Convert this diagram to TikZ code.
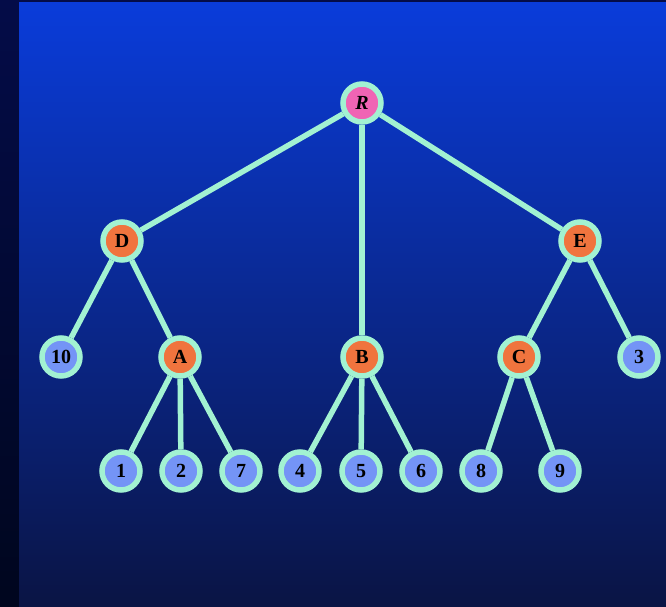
\documentclass[tikz,border=0pt]{standalone}
\usepackage{fontspec}
\setmainfont{Liberation Serif}
\begin{document}
\begin{tikzpicture}[x=1pt,y=-1pt,
  treenode/.style={circle, draw=mint, line width=5.5pt, minimum size=38pt,
    inner sep=0pt, font=\fontsize{20}{20}\selectfont\bfseries, text=black},
  inner/.style={treenode, fill=nodeorange},
  leaf/.style={treenode, fill=leafblue},
  rootnode/.style={treenode, fill=rootpink},
  edge/.style={draw=mint, line width=5.5pt}]
\definecolor{mint}{HTML}{A2F2D2}
\definecolor{nodeorange}{HTML}{F0743E}
\definecolor{leafblue}{HTML}{7494F6}
\definecolor{rootpink}{HTML}{F064B4}
\definecolor{bgtop}{HTML}{0A3CDA}
\definecolor{bgmid}{HTML}{0A2CAC}
\definecolor{bgbot}{HTML}{0A1444}
\definecolor{striptop}{HTML}{040C48}
\definecolor{stripbot}{HTML}{00061E}
% backdrop: dark frame strip and blue gradient panel
\useasboundingbox (0,0) rectangle (666,607);
\shade[top color=striptop, bottom color=stripbot] (0,0) rectangle (666,607);
\shade[top color=bgtop, middle color=bgmid, bottom color=bgbot] (19,3) rectangle (666,607);
% nodes
\node[rootnode] (R) at (362,103) {\itshape R};
\node[inner] (D) at (122,241) {D};
\node[inner] (E) at (580,241) {E};
\node[leaf] (n10) at (61,357) {10};
\node[inner] (A) at (180,357) {A};
\node[inner] (B) at (362,357) {B};
\node[inner] (C) at (519,357) {C};
\node[leaf] (n3) at (639,357) {3};
\node[leaf] (n1) at (121,471) {1};
\node[leaf] (n2) at (181,471) {2};
\node[leaf] (n7) at (241,471) {7};
\node[leaf] (n4) at (300,471) {4};
\node[leaf] (n5) at (361,471) {5};
\node[leaf] (n6) at (421,471) {6};
\node[leaf] (n8) at (481,471) {8};
\node[leaf] (n9) at (560,471) {9};
% connectors
\foreach \a/\b in {R/D,R/B,R/E,D/n10,D/A,E/C,E/n3,A/n1,A/n2,A/n7,B/n4,B/n5,B/n6,C/n8,C/n9}
  \draw[edge] (\a) -- (\b);
\end{tikzpicture}
\end{document}
